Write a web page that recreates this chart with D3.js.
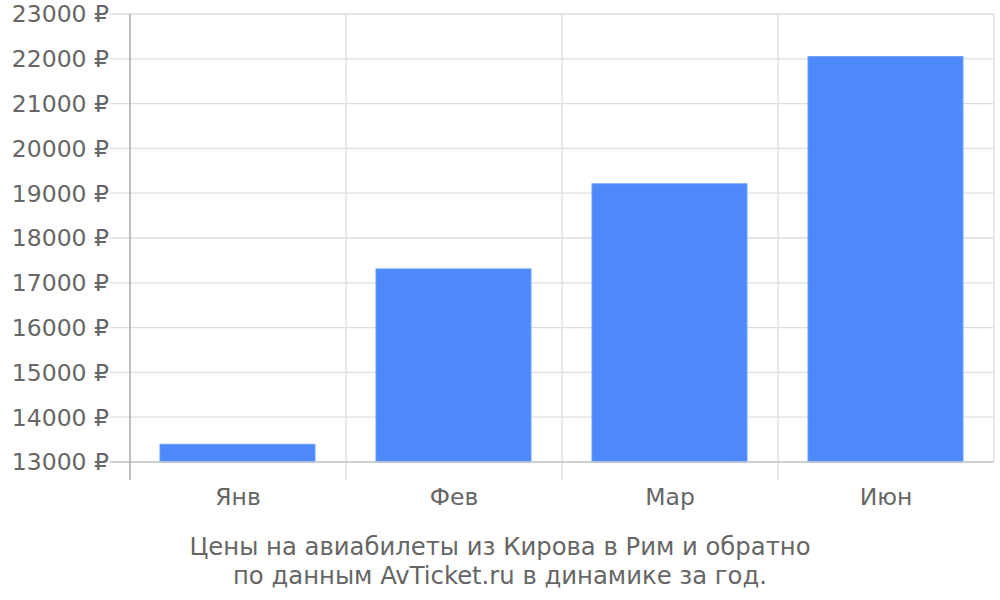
<!DOCTYPE html>
<meta charset="utf-8">
<style>
body { margin: 0; background: #fff; }
text { font-family: "DejaVu Sans", sans-serif; fill: #666; }
</style>
<svg width="1000" height="600"></svg>
<script src="https://d3js.org/d3.v7.min.js"></script>
<script>
var months = ["Янв", "Фев", "Мар", "Июн"];
var prices = [13395, 17310, 19210, 22050];
var yTicks = [13000, 14000, 15000, 16000, 17000, 18000, 19000, 20000, 21000, 22000, 23000];
var captionLines = ["Цены на авиабилеты из Кирова в Рим и обратно", "по данным AvTicket.ru в динамике за год."];

var svg = d3.select("svg");
var plotLeft = 130, plotRight = 994, plotTop = 14, plotBottom = 462;

var x = d3.scaleBand().domain(months).range([plotLeft, plotRight]).paddingInner(0).paddingOuter(0);
var y = d3.scaleLinear().domain([13000, 23000]).range([plotBottom, plotTop]);

// horizontal grid + left ticks
svg.append("g").selectAll("line").data(yTicks).enter().append("line")
  .attr("x1", plotLeft - 20).attr("x2", plotRight)
  .attr("y1", function(d) { return y(d); }).attr("y2", function(d) { return y(d); })
  .attr("stroke", "#ddd").attr("stroke-width", 1.3);

// vertical category dividers
var bounds = months.map(function(m) { return x(m) + x.bandwidth(); });
svg.append("g").selectAll("line").data(bounds).enter().append("line")
  .attr("x1", function(d) { return d; }).attr("x2", function(d) { return d; })
  .attr("y1", plotTop).attr("y2", function(d, i) { return i == bounds.length - 1 ? plotBottom : plotBottom + 18; })
  .attr("stroke", "#ddd").attr("stroke-width", 1.3);

// bars
var pad = 30;
svg.append("g").selectAll("rect").data(prices).enter().append("rect")
  .attr("x", function(d, i) { return x(months[i]) + pad; })
  .attr("width", x.bandwidth() - 2 * pad - 1)
  .attr("y", function(d) { return y(d); })
  .attr("height", function(d) { return plotBottom - y(d); })
  .attr("fill", "#4d89f9")
  .attr("stroke", "#6f9ffa").attr("stroke-width", 1);

// x axis baseline
svg.append("line").attr("x1", plotLeft - 20).attr("x2", plotRight)
  .attr("y1", plotBottom).attr("y2", plotBottom).attr("stroke", "#c8c8c8").attr("stroke-width", 1.5);
// y axis line
svg.append("line").attr("x1", plotLeft).attr("x2", plotLeft)
  .attr("y1", plotTop).attr("y2", plotBottom + 18).attr("stroke", "#aaa").attr("stroke-width", 1.5);

// y labels
svg.append("g").selectAll("text").data(yTicks).enter().append("text")
  .attr("x", plotLeft - 21).attr("y", function(d) { return y(d); })
  .attr("dy", "0.36em").attr("text-anchor", "end")
  .attr("font-size", "23.5px")
  .text(function(d) { return d + " ₽"; });

// x labels
svg.append("g").selectAll("text").data(months).enter().append("text")
  .attr("x", function(d) { return x(d) + x.bandwidth() / 2; })
  .attr("y", 505).attr("text-anchor", "middle")
  .attr("font-size", "23.5px")
  .text(function(d) { return d; });

// caption
svg.append("g").selectAll("text").data(captionLines).enter().append("text")
  .attr("x", 500).attr("y", function(d, i) { return 555 + i * 29; })
  .attr("text-anchor", "middle").attr("font-size", "24.3px")
  .text(function(d) { return d; });
</script>
